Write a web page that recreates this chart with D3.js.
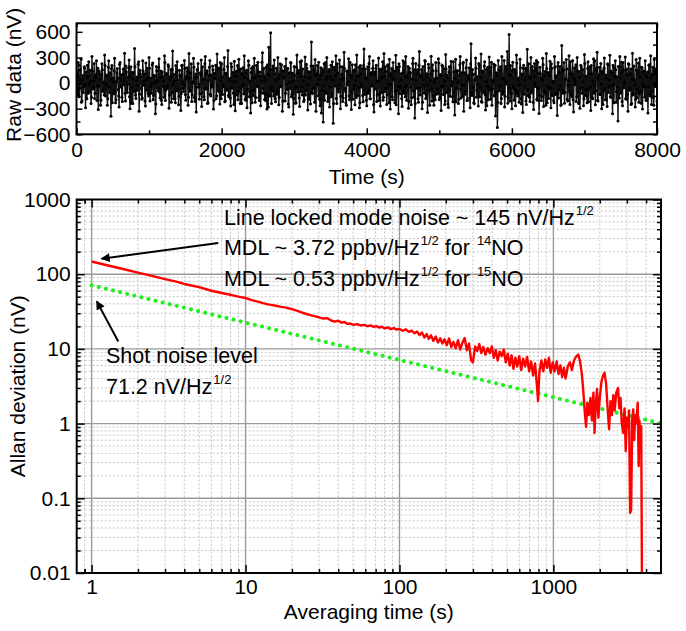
<!DOCTYPE html>
<html><head><meta charset="utf-8">
<script src="https://cdn.jsdelivr.net/npm/d3@7"></script>
<style>
html,body{margin:0;padding:0;background:#fff;}
svg{display:block;font-family:"Liberation Sans",Arial,sans-serif;}
</style></head>
<body>
<svg id="chart" width="686" height="631"></svg>
<script>
// ---------------- DATA ----------------
const rawDt = 12.5; // seconds between samples of each list (second list offset by half a step)
const rawValues = [
120,-85,240,-160,35,280,-210,90,-40,175,-290,60,210,-120,-15,150,-240,310,-70,20,
-180,95,260,-30,-310,140,45,-200,225,-95,10,330,-150,80,-260,185,-45,120,-390,205,
60,-125,290,-230,15,170,-75,-280,240,35,-165,100,-20,350,-210,130,-110,65,270,-300,
190,-55,-240,125,405,-140,30,-85,220,-330,150,75,-190,260,-25,110,-270,45,175,-120,
300,-210,55,-10,235,-145,85,-360,195,20,-90,285,-175,140,-250,70,-40,320,-205,110,
-65,215,-295,40,160,-110,375,-185,25,-230,130,250,-70,-155,90,-320,205,15,-100,265,
-135,50,180,-260,345,-80,120,-215,5,290,-170,60,-340,155,230,-45,-125,95,-275,190,
40,-195,310,-60,145,-230,85,265,-150,-20,200,-305,115,55,-185,340,-90,175,-245,30,
225,-135,-40,300,-210,105,-80,380,-160,50,-270,190,15,-115,255,-325,135,70,-195,280,
-55,165,-240,95,-15,320,-190,120,-290,45,210,-100,-350,175,60,-145,290,-225,85,-30,
245,-170,130,-265,20,355,-120,75,-200,185,-305,110,420,-150,590,-240,160,-90,270,-185,
35,-130,300,-255,95,-40,215,-330,140,65,-210,285,-75,170,-280,10,240,-160,115,-365,
195,-50,-230,330,-105,150,-275,80,260,-140,25,-195,305,-85,175,-315,60,130,-245,480,
-120,200,-60,275,-330,105,-15,245,-190,90,-350,160,-455,225,-95,40,300,-215,135,-280,
70,-160,250,-470,185,-35,320,-240,115,-105,270,-300,45,190,-175,360,-65,-230,140,-20,
285,-195,95,-310,215,-70,150,-255,30,330,-145,80,-290,205,-45,170,-220,400,-130,55,
-265,190,-90,310,-185,125,-30,260,-340,100,175,-215,20,295,-125,-270,165,60,-200,345,
-100,135,-250,215,-15,280,-305,90,-160,240,40,-230,325,-85,150,-360,195,-40,110,-275,
260,-120,-45,310,-200,85,-295,175,120,-255,45,290,-165,-410,230,-60,155,-225,370,-140,
75,-300,195,-20,265,-180,110,-345,220,-90,30,315,-210,145,-260,50,240,-130,-70,285,
-195,100,-320,210,-35,170,-250,335,-110,65,-285,190,-155,255,15,-220,130,-375,280,-60,
145,-240,90,310,-175,-25,230,-330,120,-95,270,-205,55,180,-290,460,-145,100,-230,35,
295,-165,75,-270,210,-50,340,-225,130,-110,250,-315,160,-35,-195,305,-80,185,-260,25,
220,-150,-385,120,-520,265,-90,150,-240,310,-130,55,-280,195,-10,370,-175,570,-210,95,
-300,245,-60,160,-265,330,-120,40,-225,280,-185,105,-345,210,-30,175,-250,395,-145,70,
-215,300,-95,140,-310,230,-40,265,-200,115,-355,185,60,-160,290,-275,90,-115,345,-230,
125,-60,255,-290,170,20,-205,310,-135,85,-380,240,-75,195,-260,440,-120,150,-235,45,
275,-190,-30,320,-250,110,-160,265,-340,180,25,-215,300,-100,135,-295,210,-55,160,-265,
335,-145,80,-230,250,-70,190,-320,105,-185,285,-25,-255,170,360,-210,95,-130,230,-300,
140,-80,295,-195,55,-275,215,-40,325,-165,120,-360,185,-20,260,-225,75,-445,190,310,
-115,245,-265,150,-10,305,-190,90,-330,220,-60,165,-240,350,-125,40,-280,275,-170,115,
-225,290,-95,185,-305,130,-45,260,-200,70,-350,210,-130,320,-250,95,-165,275,-40,150,-210
];
const rawValuesMid = [
85,-140,210,-60,160,-225,40,-110,190,-15,130,-185,75,250,-95,20,-170,145,-50,230,
-120,65,-205,175,-35,110,-260,90,155,-75,-140,205,-20,95,-185,260,-110,40,170,-230,
15,145,-90,-195,120,55,-150,220,-45,95,-215,165,30,-120,200,-70,-10,180,-160,85,
-235,125,45,-100,190,-180,70,-25,250,-130,105,-60,-175,140,20,-210,235,-85,60,-150,
175,-40,-120,215,-195,90,10,-245,145,-55,185,-105,65,-200,130,25,-165,240,-80,110,
-30,195,-140,70,-225,160,-15,100,-180,205,-90,35,-255,150,85,-125,210,-60,-20,170,
-200,80,135,-165,55,-95,225,-140,15,185,-215,105,-50,160,-10,-190,120,270,-115,45,
-160,225,-70,115,-240,30,185,-130,95,-45,155,-205,60,210,-150,-30,175,-100,240,-185,
70,-20,160,-220,115,-80,195,-145,40,-175,230,-60,125,-250,85,15,-140,205,-95,150,
-240,110,-35,180,-125,65,-200,150,-70,260,-160,20,125,-230,195,-85,55,-170,210,-40,
130,-205,80,-110,245,-65,170,-190,35,-130,215,-280,90,155,-75,-45,200,-150,105,-220,
175,-95,50,-165,225,-30,140,-210,60,195,-120,-15,170,-245,120,-65,235,-130,25,-180,
90,-235,185,-50,115,-175,250,-100,-40,165,-215,75,-140,220,-20,135,-190,60,200,-110,
-60,155,-225,95,-15,205,-150,45,-265,180,-85,130,-30,-200,240,-120,70,-175,160,-45,
210,-130,35,-240,150,85,-180,225,-70,-20,190,-155,100,-215,55,170,-95,-260,135,15,
-150,245,-105,60,-190,140,-25,215,-170,80,-55,185,-230,110,-10,-145,205,-80,165,-200,
50,-120,230,-185,95,-35,175,-250,130,-70,210,-140,25,-205,160,65,-110,250,-165,80,
190,-60,-135,205,-230,110,-15,170,-195,55,140,-100,-255,185,-40,225,-125,35,-180,120,
-85,240,-160,70,-25,195,-215,125,-50,-170,230,-90,155,-240,30,110,-185,210,-55,90,
160,-225,45,-115,255,-140,75,-20,180,-260,105,-65,215,-150,15,-195,145,60,-120,235,
-175,85,-40,200,-135,25,-210,165,95,-245,130,-80,190,-30,-160,250,-105,55,-220,140,
10,-190,215,-70,120,-155,245,-25,-130,180,-205,90,35,-175,225,-110,160,-50,-240,105,
175,-80,-20,230,-160,65,-215,140,-95,200,-135,15,-265,185,-45,120,-190,245,-70,30,
-145,210,-110,85,-225,155,-30,190,-180,50,-100,265,-155,20,170,-235,95,-60,205,-120,
145,-40,-200,120,-85,235,-150,60,-20,180,-245,100,175,-130,35,-210,150,-75,225,-165,
55,-115,195,-225,80,-10,160,-190,245,-60,-140,110,-205,40,215,-95,135,-260,170,-30,
-180,90,-55,225,-145,15,-230,185,70,-120,200,-175,125,-35,-250,160,-85,240,-110,50,
165,-210,30,-95,250,-135,95,-195,55,-20,215,-160,140,-240,75,-60,190,-120,15,-185,
230,-75,-150,170,-220,110,-40,205,-170,25,-115,260,-90,145,-205,60,185,-135,-15,120,
-250,175,-65,95,-195,225,-110,35,-160,140,-30,210,-230,80,155,-100,-45,195,-175,65,
120,-215,240,-55,10,-180,165,-130,225,-85,105,-250,45,-140,200,-20,-190,150,-70,235,
-120,70,-235,180,-15,145,-165,95,-205,130,-40,215,-150,60,-95,185,-260,110,-25,170
];
const timeTicks = [0, 2000, 4000, 6000, 8000];
const timeMinorTicks = [1000, 3000, 5000, 7000];
const rawTicks = [-600, -300, 0, 300, 600];
const rawMinorTicks = [-450, -150, 150, 450];

const allanTau = [
1,1.2,1.5,2,2.5,3,3.5,4,5,6,7,8,9,10,11,12,13,14,15,16,17,18,19,20,22,24,26,28,30,
32,34,36,38,40,42,44,46,48,50,53,56,59,62,65,68,71,74,77,80,84,88,92,96,100,
105,110,115,120,125,130,135,140,145,150,155,160,166,172,178,184,190,196,203,210,217,224,232,240,248,256,265,274,283,292,300,
310,320,330,340,350,362,374,386,398,410,422,435,448,462,476,490,505,520,535,550,566,582,600,618,636,655,675,695,716,738,760,782,795,810,835,860,885,910,935,960,990,
1020,1050,1080,1110,1140,1170,1200,1240,1280,1320,1360,1400,1450,1490,1530,1560,
1600,1630,1660,1700,1740,1780,1820,1850,1880,1920,1960,2000,2050,2100,2150,2200,2250,2300,2350,2400,2450,2500,2560,2630,2680,2730,2780,2840,2900,2950,3000,3060,3100,3150,3200,3250,3300,3350,3400,3450,3530,3580,3620,3680,3720,3760
];
const allanVal = [
148,135,121,105,94,86,80,74,67,60,56,53,50,48,45,43,41,39.5,38.5,37.5,36.5,36,35,34,32,30,28.5,27.5,26.5,
25.5,25.8,24,23.2,23.8,22.5,22.9,21.6,21.9,21,21.5,20.6,21,20.1,20.6,19.7,20.2,19.3,19.8,18.8,19.4,18.4,19,18.1,18.5,
17.5,18.3,16.9,17.6,16.2,17.1,15.3,16.6,14.2,15.8,13.6,15.2,12.8,14.6,12.2,13.9,11.8,13.5,11.2,13.8,10.6,12.4,10.2,13.1,9.8,12.0,14.0,9.6,11.8,7.0,6.6,
10.8,9.4,11.6,8.8,10.6,8.4,10.2,8.8,10.8,7.6,9.6,7.0,9.2,8.0,9.8,6.6,8.6,6.0,8.2,5.4,7.6,5.8,8.0,5.2,7.4,5.8,7.8,5.0,6.8,4.4,6.4,3.2,2.0,4.8,7.0,5.0,7.2,5.6,7.6,4.8,6.6,
5.0,6.8,4.6,6.0,4.2,5.6,4.0,5.8,6.6,5.2,7.0,7.8,8.4,6.8,4.6,2.9,
1.4,0.9,1.9,1.3,2.2,1.1,2.6,0.75,1.6,2.9,1.2,2.2,3.6,4.4,4.8,3.4,1.6,0.84,2.0,1.3,2.4,1.5,2.6,3.0,1.6,2.2,1.0,0.75,1.6,0.43,1.2,0.9,1.5,0.064,0.07,1.1,1.55,0.6,1.3,1.0,1.9,0.27,1.1,0.6,0.92,0.008
];
const shotTau = [1, 5000];
const shotVal = [71.2, 1.007];
const tauTicks = [1, 10, 100, 1000];
const devTicks = [0.01, 0.1, 1, 10, 100, 1000];

// annotation texts (segments: [text, isSuperscript])
const annotations = [
  {tau: 7.24, val: 460, parts: [["Line locked mode noise ~ 145 nV/Hz",0],["1/2",1]]},
  {tau: 7.24, val: 178, parts: [["MDL ~ 3.72 ppbv/Hz",0],["1/2",1],[" for ",0],["14",1],["NO",0]]},
  {tau: 7.24, val: 68.5, parts: [["MDL ~ 0.53 ppbv/Hz",0],["1/2",1],[" for ",0],["15",1],["NO",0]]},
  {tau: 1.24, val: 6.48, parts: [["Shot noise level",0]]},
  {tau: 1.24, val: 2.51, parts: [["71.2 nV/Hz",0],["1/2",1]]}
];
const arrows = [
  {from: [6.65, 262], to: [1.16, 161]},
  {from: [1.49, 12.6], to: [1.08, 43.3]}
];

// ---------------- DRAW ----------------
const svg = d3.select("#chart");
const FS = 21;

// ---- Top panel ----
const xT = d3.scaleLinear([0, 8000], [76.5, 657]);
const yT = d3.scaleLinear([-600, 700], [134.3, 23.3]);
const gT = svg.append("g");

function styleAxis(g){
  g.select(".domain").remove();
  g.selectAll("line").attr("stroke","#000").attr("stroke-width",1.5);
  g.selectAll("text").attr("font-size",FS).attr("fill","#000").attr("font-family","'Liberation Sans',Arial,sans-serif");
}

svg.append("defs").append("clipPath").attr("id","clipT")
  .append("rect").attr("x",xT.range()[0]).attr("y",yT.range()[1])
  .attr("width",xT.range()[1]-xT.range()[0]).attr("height",yT.range()[0]-yT.range()[1]);

const rawPts = [];
rawValues.forEach((v,i)=>{
  rawPts.push([i*rawDt, v]);
  if(i < rawValuesMid.length) rawPts.push([(i+0.5)*rawDt, rawValuesMid[i]]);
});
const rawLine = d3.line().x(d=>xT(d[0])).y(d=>yT(d[1]));
const rawG = gT.append("g").attr("clip-path","url(#clipT)");
rawG.append("path").attr("d", rawLine(rawPts)).attr("fill","none").attr("stroke","#111").attr("stroke-width",1.4);
rawG.selectAll("circle").data(rawPts).join("circle")
  .attr("cx",d=>xT(d[0])).attr("cy",d=>yT(d[1])).attr("r",1.5).attr("fill","#000");

// axes top panel
gT.append("g").attr("transform",`translate(0,${yT.range()[0]})`)
  .call(d3.axisBottom(xT).tickValues(timeTicks).tickSize(-6).tickPadding(8).tickFormat(d3.format("d"))).call(styleAxis);
gT.append("g").attr("transform",`translate(0,${yT.range()[0]})`)
  .call(d3.axisBottom(xT).tickValues(timeMinorTicks).tickSize(-4).tickFormat("")).call(styleAxis);
gT.append("g").attr("transform",`translate(0,${yT.range()[1]})`)
  .call(d3.axisTop(xT).tickValues(timeTicks.concat(timeMinorTicks)).tickSize(-4).tickFormat("")).call(styleAxis);
gT.append("g").attr("transform",`translate(${xT.range()[0]},0)`)
  .call(d3.axisLeft(yT).tickValues(rawTicks).tickSize(-6).tickPadding(6).tickFormat(d3.format("d"))).call(styleAxis);
gT.append("g").attr("transform",`translate(${xT.range()[0]},0)`)
  .call(d3.axisLeft(yT).tickValues(rawMinorTicks).tickSize(-4).tickFormat("")).call(styleAxis);
gT.append("g").attr("transform",`translate(${xT.range()[1]},0)`)
  .call(d3.axisRight(yT).tickValues(rawTicks.concat(rawMinorTicks)).tickSize(-4).tickFormat("")).call(styleAxis);

gT.append("rect").attr("x",xT.range()[0]).attr("y",yT.range()[1])
  .attr("width",xT.range()[1]-xT.range()[0]).attr("height",yT.range()[0]-yT.range()[1])
  .attr("fill","none").attr("stroke","#000").attr("stroke-width",2);

gT.append("text").attr("x",(xT.range()[0]+xT.range()[1])/2).attr("y",184)
  .attr("text-anchor","middle").attr("font-size",FS).text("Time (s)");
gT.append("text").attr("transform",`translate(21,${(yT.range()[0]+yT.range()[1])/2 - 4}) rotate(-90)`)
  .attr("text-anchor","middle").attr("font-size",FS).text("Raw data (nV)");

// ---- Bottom panel ----
const xB = d3.scaleLog([0.8, 5000], [76.7, 661]);
const yB = d3.scaleLog([0.01, 1000], [573, 199.5]);
const gB = svg.append("g");

function minorsOf(dom){
  const out=[];
  for(let e=-3;e<=4;e++){
    for(let m=2;m<=9;m++){
      const v = m*Math.pow(10,e);
      if(v>dom[0]*1.0001 && v<dom[1]*0.9999) out.push(v);
    }
  }
  return out;
}
const tauMinor = minorsOf(xB.domain());
const devMinor = minorsOf(yB.domain());

const X0=xB.range()[0], X1=xB.range()[1], Y0=yB.range()[1], Y1=yB.range()[0];

// minor grid
gB.append("g").selectAll("line").data(tauMinor).join("line")
  .attr("x1",d=>xB(d)).attr("x2",d=>xB(d)).attr("y1",Y0).attr("y2",Y1)
  .attr("stroke","#c4c4c4").attr("stroke-width",1).attr("stroke-dasharray","2,2");
gB.append("g").selectAll("line").data(devMinor).join("line")
  .attr("y1",d=>yB(d)).attr("y2",d=>yB(d)).attr("x1",X0).attr("x2",X1)
  .attr("stroke","#c4c4c4").attr("stroke-width",1).attr("stroke-dasharray","2,2");
// major grid
gB.append("g").selectAll("line").data(tauTicks).join("line")
  .attr("x1",d=>xB(d)).attr("x2",d=>xB(d)).attr("y1",Y0).attr("y2",Y1)
  .attr("stroke","#9a9a9a").attr("stroke-width",1.4);
gB.append("g").selectAll("line").data(devTicks.slice(1,-1)).join("line")
  .attr("y1",d=>yB(d)).attr("y2",d=>yB(d)).attr("x1",X0).attr("x2",X1)
  .attr("stroke","#9a9a9a").attr("stroke-width",1.4);

svg.select("defs").append("clipPath").attr("id","clipB")
  .append("rect").attr("x",X0).attr("y",Y0).attr("width",X1-X0).attr("height",Y1-Y0);

const dataG = gB.append("g").attr("clip-path","url(#clipB)");
const lineB = d3.line().x(d=>xB(d[0])).y(d=>yB(d[1]));
dataG.append("path").attr("d", lineB(shotTau.map((t,i)=>[t,shotVal[i]])))
  .attr("fill","none").attr("stroke","#22ee22").attr("stroke-width",4)
  .attr("stroke-linecap","round").attr("stroke-dasharray","0.1,7.2");
dataG.append("path").attr("d", lineB(allanTau.map((t,i)=>[t,allanVal[i]])))
  .attr("fill","none").attr("stroke","#ff0000").attr("stroke-width",2.4).attr("stroke-linejoin","round");

// axes bottom panel
const fmtLog = d=> String(d);
gB.append("g").attr("transform",`translate(0,${Y1})`)
  .call(d3.axisBottom(xB).tickValues(tauTicks).tickSize(-8).tickPadding(6).tickFormat(fmtLog)).call(styleAxis);
gB.append("g").attr("transform",`translate(0,${Y1})`)
  .call(d3.axisBottom(xB).tickValues(tauMinor.concat([0.9])).tickSize(-4).tickFormat("")).call(styleAxis);
gB.append("g").attr("transform",`translate(0,${Y0})`)
  .call(d3.axisTop(xB).tickValues(tauTicks).tickSize(-8).tickFormat("")).call(styleAxis);
gB.append("g").attr("transform",`translate(0,${Y0})`)
  .call(d3.axisTop(xB).tickValues(tauMinor.concat([0.9])).tickSize(-4).tickFormat("")).call(styleAxis);
gB.append("g").attr("transform",`translate(${X0},0)`)
  .call(d3.axisLeft(yB).tickValues(devTicks).tickSize(-8).tickPadding(6).tickFormat(fmtLog)).call(styleAxis);
gB.append("g").attr("transform",`translate(${X0},0)`)
  .call(d3.axisLeft(yB).tickValues(devMinor).tickSize(-4).tickFormat("")).call(styleAxis);
gB.append("g").attr("transform",`translate(${X1},0)`)
  .call(d3.axisRight(yB).tickValues(devTicks).tickSize(-8).tickFormat("")).call(styleAxis);
gB.append("g").attr("transform",`translate(${X1},0)`)
  .call(d3.axisRight(yB).tickValues(devMinor).tickSize(-4).tickFormat("")).call(styleAxis);

gB.append("rect").attr("x",X0).attr("y",Y0).attr("width",X1-X0).attr("height",Y1-Y0)
  .attr("fill","none").attr("stroke","#000").attr("stroke-width",2);

gB.append("text").attr("x",(X0+X1)/2).attr("y",619)
  .attr("text-anchor","middle").attr("font-size",FS).text("Averaging time (s)");
gB.append("text").attr("transform",`translate(25,${(Y0+Y1)/2}) rotate(-90)`)
  .attr("text-anchor","middle").attr("font-size",FS).text("Allan deviation (nV)");

// annotations
annotations.forEach(a=>{
  const t = gB.append("text").attr("x",xB(a.tau)).attr("y",yB(a.val)).attr("font-size",21.5).attr("fill","#000");
  let up = false;
  a.parts.forEach(([s,sup])=>{
    const ts = t.append("tspan").text(s).attr("xml:space","preserve");
    if(sup && !up){ ts.attr("font-size",13).attr("dy",-10).attr("dx",1); up=true; }
    else if(!sup && up){ ts.attr("dy",10); up=false; }
  });
  t.style("white-space","pre");
});

// arrows
const defs = svg.select("defs");
defs.append("marker").attr("id","arrowHead").attr("viewBox","0 0 10 10")
  .attr("refX",9).attr("refY",5).attr("markerWidth",17).attr("markerHeight",9)
  .attr("markerUnits","userSpaceOnUse").attr("orient","auto")
  .append("path").attr("d","M0,0 L10,5 L0,10 Z").attr("fill","#000");
arrows.forEach(a=>{
  gB.append("line").attr("x1",xB(a.from[0])).attr("y1",yB(a.from[1]))
    .attr("x2",xB(a.to[0])).attr("y2",yB(a.to[1]))
    .attr("stroke","#000").attr("stroke-width",2).attr("marker-end","url(#arrowHead)");
});
</script>
</body></html>
